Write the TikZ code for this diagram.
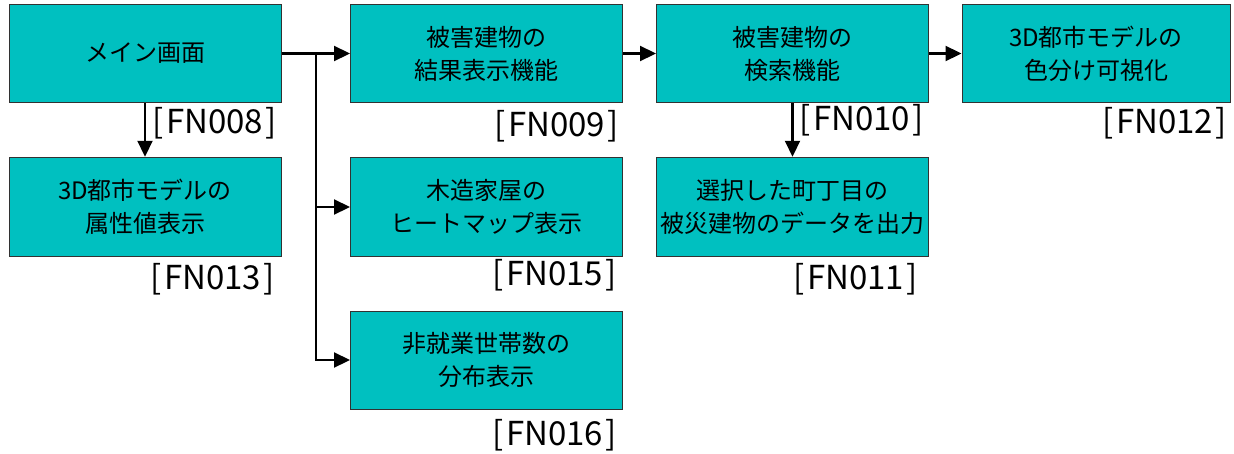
\documentclass[tikz,border=0pt]{standalone}
\usepackage{fontspec}
\setmainfont{Noto Sans CJK JP}
\usetikzlibrary{arrows.meta}
\definecolor{boxfill}{RGB}{0,192,192}
\definecolor{boxline}{RGB}{50,50,50}
\newcommand{\fnlab}[1]{[\kern2.5pt #1\kern2.5pt]}
\begin{document}
\begin{tikzpicture}[x=1pt,y=-1pt,
  box/.style={draw=boxline, line width=1pt, fill=boxfill, minimum width=272pt, minimum height=98pt,
    inner sep=0pt, align=center, font=\fontsize{24pt}{33pt}\selectfont},
  lbl/.style={anchor=east, inner sep=0pt, font=\fontsize{33pt}{36pt}\selectfont},
  arr/.style={-{Triangle[length=16pt,width=15pt]}, line width=2.2pt, black}]
\useasboundingbox (0,0) rectangle (1234,453);
% boxes
\node[box] (b1)  at (145,53.5)  {メイン画面};
\node[box, minimum height=99.5pt] (b13) at (145,207) {3D都市モデルの\\属性値表示};
\node[box] (b9)  at (486.5,53.5) {被害建物の\\結果表示機能};
\node[box, minimum height=99.5pt] (b15) at (486.5,207) {木造家屋の\\ヒートマップ表示};
\node[box] (b16) at (486.5,360) {非就業世帯数の\\分布表示};
\node[box] (b10) at (792.5,53.5) {被害建物の\\検索機能};
\node[box, minimum height=99.5pt] (b11) at (792.5,207) {選択した町丁目の\\被災建物のデータを出力};
\node[box, minimum width=268pt] (b12) at (1096,53.5) {3D都市モデルの\\色分け可視化};
% labels
\node[lbl] (l8)  at (277,123.5) {\fnlab{FN008}};
\node[lbl] (l9)  at (619,126) {\fnlab{FN009}};
\node[lbl] (l13) at (275,279) {\fnlab{FN013}};
\node[lbl] (l15) at (617,275) {\fnlab{FN015}};
\node[lbl] (l16) at (617,435) {\fnlab{FN016}};
\node[lbl] (l10) at (924,120) {\fnlab{FN010}};
\node[lbl] (l11) at (918,279) {\fnlab{FN011}};
\node[lbl] (l12) at (1227,123.5) {\fnlab{FN012}};
% connectors
\coordinate (j) at (316,53.5);
\draw[arr] (b1.east) -- (b9.west);
\draw[arr] (j) |- (b15.west);
\draw[arr] (j) |- (b16.west);
\draw[arr] (b1.south) -- (b13.north);
\draw[arr] (b9.east) -- (b10.west);
\draw[arr] (b10.east) -- (b12.west);
\draw[arr] (b10.south) -- (b11.north);
\end{tikzpicture}
\end{document}
